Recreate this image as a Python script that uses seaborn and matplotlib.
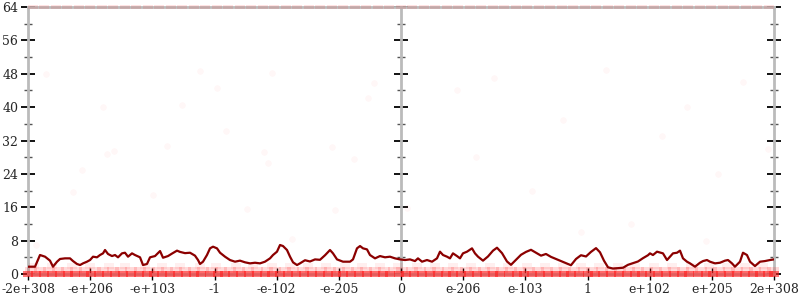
import numpy as np
import pandas as pd
import matplotlib
matplotlib.use("Agg")
import matplotlib.pyplot as plt
import seaborn as sns
from matplotlib.ticker import MultipleLocator
from matplotlib.markers import MarkerStyle

sns.set_theme(style="white")
plt.rcParams["font.family"] = ["DejaVu Serif"]

# ---- data (x in ordered-float-bit units: -6 .. 6, tick every 1) ----
tick_pos = [-6, -5, -4, -3, -2, -1, 0, 1, 2, 3, 4, 5, 6]
tick_labels = ["-2e+308", "-e+206", "-e+103", "-1", "-e-102", "-e-205", "0",
               "e-206", "e-103", "1", "e+102", "e+205", "2e+308"]

line_x = [-6.0, -5.887, -5.807, -5.726, -5.646, -5.598, -5.533, -5.485, -5.405, -5.324,
          -5.276, -5.212, -5.163, -5.115, -5.051, -5.002, -4.954, -4.890, -4.842, -4.793,
          -4.761, -4.713, -4.649, -4.600, -4.552, -4.488, -4.440, -4.391, -4.327, -4.279,
          -4.198, -4.150, -4.086, -4.037, -3.957, -3.876, -3.828, -3.748, -3.683, -3.603,
          -3.555, -3.474, -3.394, -3.314, -3.265, -3.233, -3.185, -3.121, -3.072, -3.024,
          -2.960, -2.911, -2.831, -2.751, -2.670, -2.590, -2.509, -2.429, -2.348, -2.268,
          -2.188, -2.107, -2.059, -1.995, -1.946, -1.898, -1.834, -1.785, -1.737, -1.673,
          -1.625, -1.544, -1.464, -1.383, -1.303, -1.222, -1.142, -1.094, -1.029, -0.933,
          -0.820, -0.772, -0.708, -0.659, -0.611, -0.547, -0.499, -0.418, -0.338, -0.257,
          -0.177, -0.097, -0.016, 0.064, 0.145, 0.225, 0.273, 0.338, 0.418, 0.499,
          0.579, 0.627, 0.676, 0.740, 0.788, 0.836, 0.901, 0.949, 0.997, 1.062,
          1.142, 1.190, 1.239, 1.319, 1.399, 1.480, 1.544, 1.625, 1.705, 1.769,
          1.850, 1.930, 2.011, 2.091, 2.171, 2.252, 2.332, 2.413, 2.493, 2.574,
          2.654, 2.734, 2.815, 2.895, 2.976, 3.056, 3.137, 3.201, 3.265, 3.330,
          3.410, 3.490, 3.571, 3.651, 3.732, 3.812, 3.893, 3.973, 4.005, 4.053,
          4.118, 4.214, 4.279, 4.327, 4.375, 4.440, 4.488, 4.536, 4.600, 4.649,
          4.729, 4.809, 4.858, 4.922, 4.970, 5.051, 5.131, 5.212, 5.260, 5.324,
          5.372, 5.453, 5.501, 5.565, 5.614, 5.694, 5.775, 5.855, 5.935, 6.0]
line_y = [1.75, 1.75, 4.55, 4.15, 3.2, 1.75, 2.95, 3.6, 3.75, 3.75,
          3.1, 2.4, 2.15, 2.55, 2.95, 3.35, 4.15, 4.0, 4.55, 4.95,
          5.75, 4.8, 4.3, 4.55, 4.0, 4.95, 5.1, 4.15, 4.95, 4.55,
          4.0, 2.15, 2.4, 4.0, 4.3, 5.5, 3.9, 4.3, 4.9, 5.6,
          5.3, 5.0, 5.1, 4.4, 3.35, 2.4, 2.95, 4.55, 6.15, 6.55,
          6.15, 5.1, 4.15, 3.35, 2.95, 3.2, 2.8, 2.55, 2.7, 2.55,
          2.95, 3.75, 4.55, 5.35, 6.95, 6.7, 5.75, 4.15, 2.8, 2.15,
          2.55, 3.3, 3.0, 3.5, 3.4, 4.5, 5.75, 4.95, 3.5, 2.95,
          2.95, 3.5, 6.15, 6.7, 6.15, 5.9, 4.55, 3.75, 4.3, 4.0,
          4.15, 3.75, 3.5, 3.35, 3.5, 3.1, 3.75, 2.95, 3.35, 2.95,
          3.75, 5.35, 4.55, 4.15, 3.75, 4.95, 4.3, 3.75, 4.95, 5.35,
          6.15, 4.95, 4.15, 3.2, 4.2, 5.6, 6.3, 5.0, 3.0, 2.2,
          3.4, 4.6, 5.3, 5.8, 5.1, 4.4, 4.8, 4.1, 3.6, 3.1,
          2.6, 2.1, 3.6, 4.5, 4.2, 5.3, 6.2, 5.2, 3.2, 1.6,
          1.3, 1.4, 1.5, 2.2, 2.6, 3.0, 3.8, 4.5, 4.95, 4.55,
          5.35, 4.95, 3.35, 4.15, 4.95, 5.1, 5.6, 3.75, 2.95, 2.55,
          1.75, 2.7, 3.1, 3.35, 2.95, 2.55, 2.7, 3.2, 3.35, 2.55,
          1.75, 2.95, 5.1, 4.55, 2.95, 1.9, 2.95, 3.1, 3.35, 3.5]

zero_x = [-6.0, -5.87, -5.75, -5.61, -5.49, -5.36, -5.24, -5.1, -4.98, -4.85, -4.73, -4.6,
          -4.47, -4.35, -4.22, -4.09, -3.97, -3.84, -3.71, -3.59, -3.46, -3.33, -3.21, -3.08,
          -2.95, -2.83, -2.7, -2.57, -2.45, -2.32, -2.19, -2.07, -1.94, -1.81, -1.69, -1.56,
          -1.43, -1.31, -1.18, -1.05, -0.93, -0.8, -0.67, -0.55, -0.42, -0.29, -0.17, -0.04,
          0.08, 0.21, 0.34, 0.46, 0.59, 0.72, 0.84, 0.97, 1.1, 1.22, 1.35, 1.48, 1.6, 1.73,
          1.86, 1.98, 2.11, 2.24, 2.36, 2.49, 2.62, 2.74, 2.87, 3.0, 3.12, 3.25, 3.38, 3.5,
          3.63, 3.76, 3.88, 4.01, 4.14, 4.26, 4.39, 4.52, 4.64, 4.77, 4.9, 5.02, 5.15, 5.28,
          5.4, 5.53, 5.66, 5.78, 5.91, 6.0]
one_x = [-5.95, -5.8, -5.66, -5.52, -5.37, -5.22, -5.08, -4.93, -4.79, -4.64, -4.5, -4.35,
         -4.2, -4.06, -3.91, -3.77, -3.62, -3.48, -3.33, -3.18, -3.04, -2.89, -2.75, -2.6,
         -2.46, -2.31, -2.16, -2.02, -1.87, -1.73, -1.58, -1.44, -1.29, -1.14, -1.0, -0.85,
         -0.71, -0.56, -0.42, -0.27, -0.12, 0.02, 0.17, 0.31, 0.46, 0.6, 0.75, 0.9, 1.04,
         1.19, 1.33, 1.48, 1.62, 1.77, 1.92, 2.06, 2.21, 2.35, 2.5, 2.64, 2.79, 2.94, 3.08,
         3.23, 3.37, 3.52, 3.66, 3.81, 3.96, 4.1, 4.25, 4.39, 4.54, 4.68, 4.83, 4.98, 5.12,
         5.27, 5.41, 5.56, 5.7, 5.85, 5.98]
two_x = [-5.9, -5.62, -5.3, -5.01, -4.7, -4.44, -4.12, -3.85, -3.55, -3.24, -2.97, -2.66,
         -2.38, -2.08, -1.79, -1.5, -1.2, -0.9, -0.63, -0.33, -0.05, 0.26, 0.55, 0.84, 1.13,
         1.43, 1.72, 2.02, 2.31, 2.61, 2.9, 3.18, 3.49, 3.77, 4.07, 4.36, 4.66, 4.95, 5.24,
         5.54, 5.83]
top_x = [-5.92, -5.74, -5.55, -5.37, -5.18, -5.0, -4.81, -4.63, -4.44, -4.26, -4.07, -3.89,
         -3.7, -3.52, -3.33, -3.15, -2.96, -2.78, -2.59, -2.41, -2.22, -2.04, -1.85, -1.67,
         -1.48, -1.3, -1.11, -0.93, -0.74, -0.56, -0.37, -0.19, 0.0, 0.18, 0.37, 0.55, 0.74,
         0.92, 1.11, 1.29, 1.48, 1.66, 1.85, 2.03, 2.22, 2.4, 2.59, 2.77, 2.96, 3.14, 3.33,
         3.51, 3.7, 3.88, 4.07, 4.25, 4.44, 4.62, 4.81, 4.99, 5.18, 5.36, 5.55, 5.73, 5.92]

stray_x = [-5.715, -3.233, -2.075, -2.96, -0.434, -0.531, -4.798, -3.523, -2.815, -3.764,
           -4.734, -4.616, -2.208, -2.144, -1.11, -0.761, -5.126, -5.271, -3.989, -2.482,
           -1.057, -1.758, -5.871, 0.1,
           0.9, 1.5, 2.1, 2.6, 3.3, 3.7, 4.2, 4.6, 5.1, 5.5, 5.9, 1.2, 2.9, 4.9]
stray_y = [47.9, 48.7, 48.2, 44.7, 45.7, 42.3, 40.0, 40.4, 34.3, 30.8,
           28.8, 29.6, 29.3, 26.7, 30.4, 27.5, 24.9, 19.7, 19.0, 15.5,
           15.3, 8.5, 6.9, 15.8,
           44.0, 47.0, 20.0, 37.0, 49.0, 12.0, 33.0, 40.0, 24.0, 46.0, 30.0, 28.0, 10.0, 8.0]

# ---- figure ----
fig = plt.figure(figsize=(8, 3), dpi=100)
ax = fig.add_axes([28 / 800, 1 - 274 / 300, (774 - 28) / 800, (274 - 7) / 300])

red = "#ff1f1f"
band = MarkerStyle([(-1, -0.5), (1, -0.5), (1, 0.5), (-1, 0.5), (-1, -0.5)])
groups = [
    (pd.DataFrame({"x": top_x, "y": [64] * len(top_x)}), 0.12, 45, band),
    (pd.DataFrame({"x": stray_x, "y": stray_y}), 0.035, 22, "o"),
    (pd.DataFrame({"x": two_x, "y": [2] * len(two_x)}), 0.07, 60, band),
    (pd.DataFrame({"x": one_x, "y": [1] * len(one_x)}), 0.17, 75, band),
    (pd.DataFrame({"x": zero_x, "y": [0] * len(zero_x)}), 0.6, 60, band),
]
for df, a, s, m in groups:
    sns.scatterplot(data=df, x="x", y="y", ax=ax, color=red, alpha=a, s=s,
                    marker=m, linewidth=0, clip_on=False, zorder=2, legend=False)

sns.lineplot(x=line_x, y=line_y, ax=ax, color="#8b0000", linewidth=1.6,
             zorder=4, estimator=None, sort=False)

ax.set_xlim(-6, 6)
ax.set_ylim(0, 64)
ax.set_xlabel("")
ax.set_ylabel("")

gray = "#bbbbbb"
for side in ["left", "top", "right", "bottom"]:
    ax.spines[side].set_color(gray)
    ax.spines[side].set_linewidth(2)
    ax.spines[side].set_zorder(1)

ax.set_xticks(tick_pos)
ax.set_xticklabels(tick_labels)
ax.yaxis.set_major_locator(MultipleLocator(8))
ax.yaxis.set_minor_locator(MultipleLocator(4))

ax.tick_params(axis="x", which="major", direction="inout", length=9, width=1,
               color="black", labelsize=9, pad=2, bottom=True)
ax.tick_params(axis="y", which="major", direction="inout", length=10, width=1.3,
               color="black", labelsize=9, pad=2, left=True, right=True)
ax.tick_params(axis="y", which="minor", direction="inout", length=6, width=1,
               color="#555555", left=True, right=True)

# center axis at x = 0
mid = ax.secondary_yaxis(0.5)
for sp in mid.spines.values():
    sp.set_color(gray)
    sp.set_linewidth(2)
mid.yaxis.set_major_locator(MultipleLocator(8))
mid.yaxis.set_minor_locator(MultipleLocator(4))
mid.tick_params(axis="y", which="major", direction="inout", length=10, width=1.3,
                color="black", labelleft=False, labelright=False)
mid.tick_params(axis="y", which="minor", direction="inout", length=6, width=1,
                color="#555555")

fig.savefig("out.png", dpi=100, facecolor="white")
